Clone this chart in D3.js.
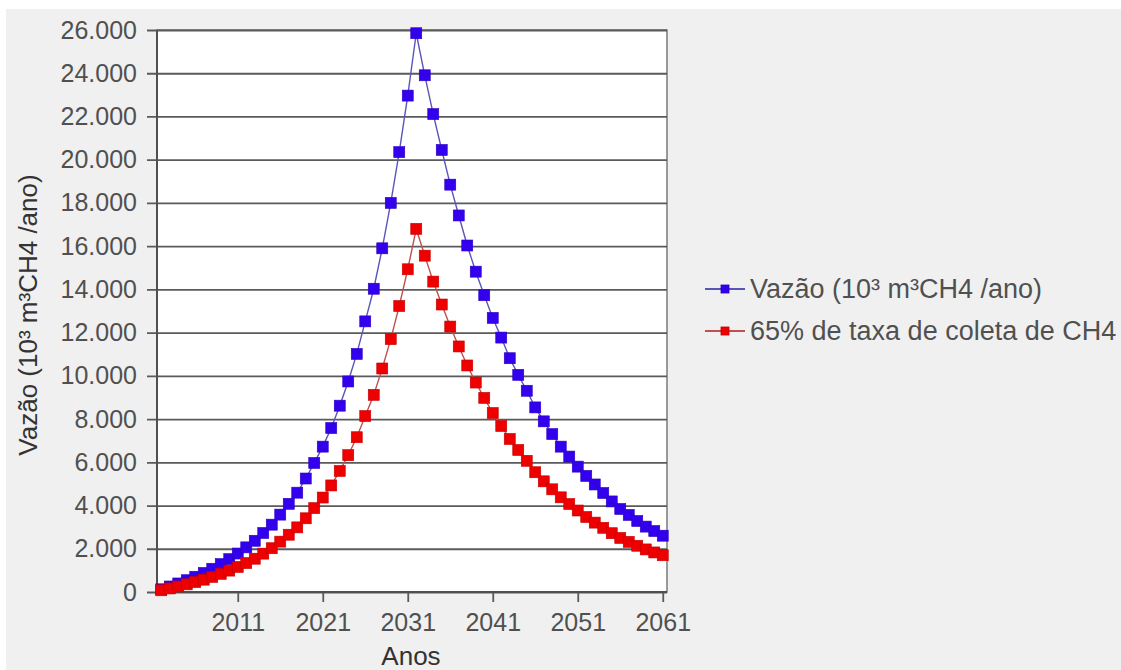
<!DOCTYPE html>
<html>
<head>
<meta charset="utf-8">
<script src="https://cdnjs.cloudflare.com/ajax/libs/d3/7.8.5/d3.min.js"></script>
<style>
  html, body { margin: 0; padding: 0; background: #ffffff; }
  svg { display: block; }
  text { font-family: "Liberation Sans", Arial, sans-serif; }
</style>
</head>
<body>
<svg id="chart" width="1121" height="670"></svg>
<script>
// Anos da série (um ponto por ano)
const years = [
  2002, 2003, 2004, 2005, 2006, 2007, 2008, 2009, 2010, 2011,
  2012, 2013, 2014, 2015, 2016, 2017, 2018, 2019, 2020, 2021,
  2022, 2023, 2024, 2025, 2026, 2027, 2028, 2029, 2030, 2031,
  2032, 2033, 2034, 2035, 2036, 2037, 2038, 2039, 2040, 2041,
  2042, 2043, 2044, 2045, 2046, 2047, 2048, 2049, 2050, 2051,
  2052, 2053, 2054, 2055, 2056, 2057, 2058, 2059, 2060, 2061
];

// Vazão total de metano (10³ m³CH4/ano)
const vazao = [
  125, 255, 395, 545, 705, 880, 1075, 1290, 1520, 1780,
  2065, 2370, 2730, 3115, 3580, 4080, 4595, 5250, 5970, 6725,
  7585, 8620, 9740, 11015, 12520, 14030, 15900, 18000, 20350, 22965,
  25850, 23905, 22110, 20450, 18845, 17420, 16030, 14820, 13730, 12680,
  11770, 10815, 10045, 9310, 8540, 7895, 7305, 6725, 6265, 5800,
  5370, 4975, 4580, 4190, 3840, 3565, 3285, 3025, 2820, 2605
];

// Vazão captada com 65% de taxa de coleta
const coleta65 = [
  80, 165, 255, 355, 460, 570, 700, 840, 990, 1160,
  1340, 1540, 1775, 2025, 2330, 2650, 2990, 3410, 3880, 4370,
  4930, 5600, 6330, 7160, 8140, 9120, 10340, 11700, 13230, 14930,
  16800, 15560, 14360, 13300, 12280, 11360, 10480, 9690, 8980, 8280,
  7680, 7080, 6570, 6070, 5540, 5120, 4750, 4380, 4070, 3770,
  3470, 3210, 2970, 2720, 2500, 2320, 2140, 1970, 1830, 1700
];

const xTickYears = [2011, 2021, 2031, 2041, 2051, 2061];
const yTickValues = [0, 2000, 4000, 6000, 8000, 10000, 12000, 14000,
                     16000, 18000, 20000, 22000, 24000, 26000];

const seriesNames = ["Vazão (10³ m³CH4 /ano)", "65% de taxa de coleta de CH4"];
const yTitle = "Vazão (10³ m³CH4 /ano)";
const xTitle = "Anos";

const svg = d3.select("#chart");

// fundo cinza claro do painel
svg.append("rect")
  .attr("x", 6).attr("y", 9)
  .attr("width", 1115).attr("height", 661)
  .attr("fill", "#f0f0f0");

const plot = { left: 157, right: 667, top: 30, bottom: 592 };
const plotW = plot.right - plot.left;

const x = d3.scalePoint()
  .domain(years)
  .range([plot.left, plot.right])
  .padding(0.5);

const y = d3.scaleLinear()
  .domain([0, 26000])
  .range([plot.bottom, plot.top]);

const ptBR = d3.formatLocale({ decimal: ",", thousands: ".", grouping: [3], currency: ["R$", ""] });
const fmt = ptBR.format(",");

// área de plotagem
svg.append("rect")
  .attr("x", plot.left).attr("y", plot.top)
  .attr("width", plotW)
  .attr("height", plot.bottom - plot.top)
  .attr("fill", "#ffffff")
  .attr("stroke", "#7a7a7a")
  .attr("stroke-width", 1.5);

// eixo Y: linhas de grade que atravessam a área e avançam 10 px à esquerda
const yAxis = d3.axisLeft(y)
  .tickValues(yTickValues)
  .tickSize(plotW + 10)
  .tickPadding(10)
  .tickFormat(fmt);

const gy = svg.append("g")
  .attr("transform", `translate(${plot.right},0)`)
  .call(yAxis);
gy.select(".domain").remove();
gy.selectAll(".tick line")
  .attr("stroke", "#5a5a5a")
  .attr("stroke-width", 1.8);
gy.selectAll(".tick text")
  .attr("fill", "#505050")
  .attr("font-size", 25);

// eixo X
const xAxis = d3.axisBottom(x)
  .tickValues(xTickYears)
  .tickSize(10)
  .tickPadding(11)
  .tickFormat(d3.format("d"));

const gx = svg.append("g")
  .attr("transform", `translate(0,${plot.bottom})`)
  .call(xAxis);
gx.select(".domain").remove();
gx.selectAll(".tick line")
  .attr("stroke", "#5a5a5a")
  .attr("stroke-width", 1.8);
gx.selectAll(".tick text")
  .attr("fill", "#505050")
  .attr("font-size", 25);

// linhas dos eixos
svg.append("line")
  .attr("x1", plot.left).attr("x2", plot.left)
  .attr("y1", plot.top).attr("y2", plot.bottom)
  .attr("stroke", "#505050").attr("stroke-width", 2);
svg.append("line")
  .attr("x1", plot.left).attr("x2", plot.right)
  .attr("y1", plot.bottom).attr("y2", plot.bottom)
  .attr("stroke", "#505050").attr("stroke-width", 2);

// séries
const series = [
  { name: seriesNames[0], values: vazao, fill: "#3300ee", stroke: "#2a00c0", line: "#5a56b8" },
  { name: seriesNames[1], values: coleta65, fill: "#ee0000", stroke: "#c40000", line: "#c05050" }
];

const lineGen = d3.line()
  .x((d, i) => x(years[i]))
  .y(d => y(d));

const markerSize = 11;

series.forEach(s => {
  const g = svg.append("g");
  g.append("path")
    .datum(s.values)
    .attr("d", lineGen)
    .attr("fill", "none")
    .attr("stroke", s.line)
    .attr("stroke-width", 1.4);
  g.selectAll("rect")
    .data(s.values)
    .join("rect")
    .attr("x", (d, i) => x(years[i]) - markerSize / 2)
    .attr("y", d => y(d) - markerSize / 2)
    .attr("width", markerSize)
    .attr("height", markerSize)
    .attr("fill", s.fill)
    .attr("stroke", s.stroke)
    .attr("stroke-width", 0.6);
});

// títulos dos eixos
svg.append("text")
  .attr("transform", "translate(28,315) rotate(-90)")
  .attr("text-anchor", "middle")
  .attr("dy", "0.35em")
  .attr("font-size", 26)
  .attr("fill", "#333333")
  .text(yTitle);

svg.append("text")
  .attr("x", 411).attr("y", 656)
  .attr("text-anchor", "middle")
  .attr("dy", "0.35em")
  .attr("font-size", 26)
  .attr("fill", "#333333")
  .text(xTitle);

// legenda
const legend = svg.append("g");
const legendRows = [289, 331];
series.forEach((s, i) => {
  const row = legend.append("g").attr("transform", `translate(0,${legendRows[i]})`);
  row.append("line")
    .attr("x1", 705).attr("x2", 745)
    .attr("y1", 0).attr("y2", 0)
    .attr("stroke", s.line).attr("stroke-width", 2);
  row.append("rect")
    .attr("x", 725 - 4).attr("y", -4)
    .attr("width", 8).attr("height", 8)
    .attr("fill", s.fill).attr("stroke", s.stroke).attr("stroke-width", 0.8);
  row.append("text")
    .attr("x", 750).attr("y", 0)
    .attr("dy", "0.35em")
    .attr("font-size", 27)
    .attr("fill", "#505050")
    .text(s.name);
});
</script>
</body>
</html>
